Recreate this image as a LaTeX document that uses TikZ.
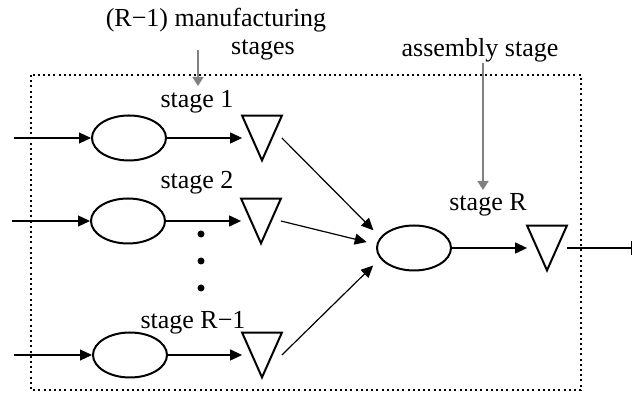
\documentclass[tikz,border=0pt]{standalone}
\usepackage{fontspec}
\setmainfont{Liberation Serif}
\usetikzlibrary{arrows.meta,shapes.geometric}

\begin{document}
\begin{tikzpicture}[x=0.5pt,y=-0.5pt,
  font=\fontsize{13}{15}\selectfont,
  proc/.style={draw,ellipse,line width=1pt,minimum width=37pt,minimum height=22.5pt,inner sep=0pt},
  buf/.style={minimum width=19.5pt,minimum height=22pt,inner sep=0pt},
  flow/.style={-{Triangle[length=6pt,width=5.5pt]},line width=0.6pt},
  note/.style={draw=gray,line width=0.7pt,-{Triangle[length=4.5pt,width=5.5pt]},gray},
  dotmark/.style={circle,fill,inner sep=0pt,minimum size=3.5pt}]
  \useasboundingbox (0,0) rectangle (633,394);
  % frame
  \draw[line width=1pt,dash pattern=on 1pt off 1.6pt] (31,75) rectangle (581,390);
  % manufacturing stages
  \node[proc] (s1) at (129,138) {};
  \node[proc] (s2) at (128,221) {};
  \node[proc] (s3) at (130,355) {};
  \node[buf] (b1) at (262,138) {};
  \node[buf] (b2) at (261,221) {};
  \node[buf] (b3) at (262,355) {};
  \coordinate (in1) at (14,138);
  \coordinate (in2) at (12,221);
  \coordinate (in3) at (14,355);
  \node (l1) at (197,102) {stage 1};
  \node (l2) at (197,183) {stage 2};
  \node (l3) at (193,323) {stage R−1};
  \foreach \i in {1,2,3}
    \node[dotmark] (d\i) at (201,207+27*\i) {};
  % assembly stage
  \node[proc] (sa) at (414,248) {};
  \node[buf] (ba) at (547,248) {};
  \coordinate (hub) at (391,248);
  \coordinate (out) at (632,248);
  \node (la) at (488,205) {stage R};
  % triangles
  \foreach \b in {b1,b2,b3,ba}
    \draw[line width=1pt,line join=miter] (\b.north west) -- (\b.north east) -- (\b.south) -- cycle;
  % flows
  \foreach \i in {1,2,3} {
    \draw[flow] (in\i) -- (s\i);
    \draw[flow] (s\i) -- (b\i.west);
    \draw[flow,shorten >=12.5pt] (b\i.east) -- (hub);
  }
  \draw[flow] (sa) -- (ba.west);
  \draw[line width=0.6pt,-{Bar[width=7pt]}] (ba.east) -- (out);
  % annotations
  \node (m1) at (216,20) {(R−1) manufacturing};
  \node (m2) at (263,50) {stages};
  \node (asm) at (480,50) {assembly stage};
  \coordinate (p1) at (198,50);
  \coordinate (p2) at (198,86);
  \coordinate (q1) at (483,63);
  \coordinate (q2) at (483,190);
  \draw[note] (p1) -- (p2);
  \draw[note] (q1) -- (q2);
\end{tikzpicture}
\end{document}
